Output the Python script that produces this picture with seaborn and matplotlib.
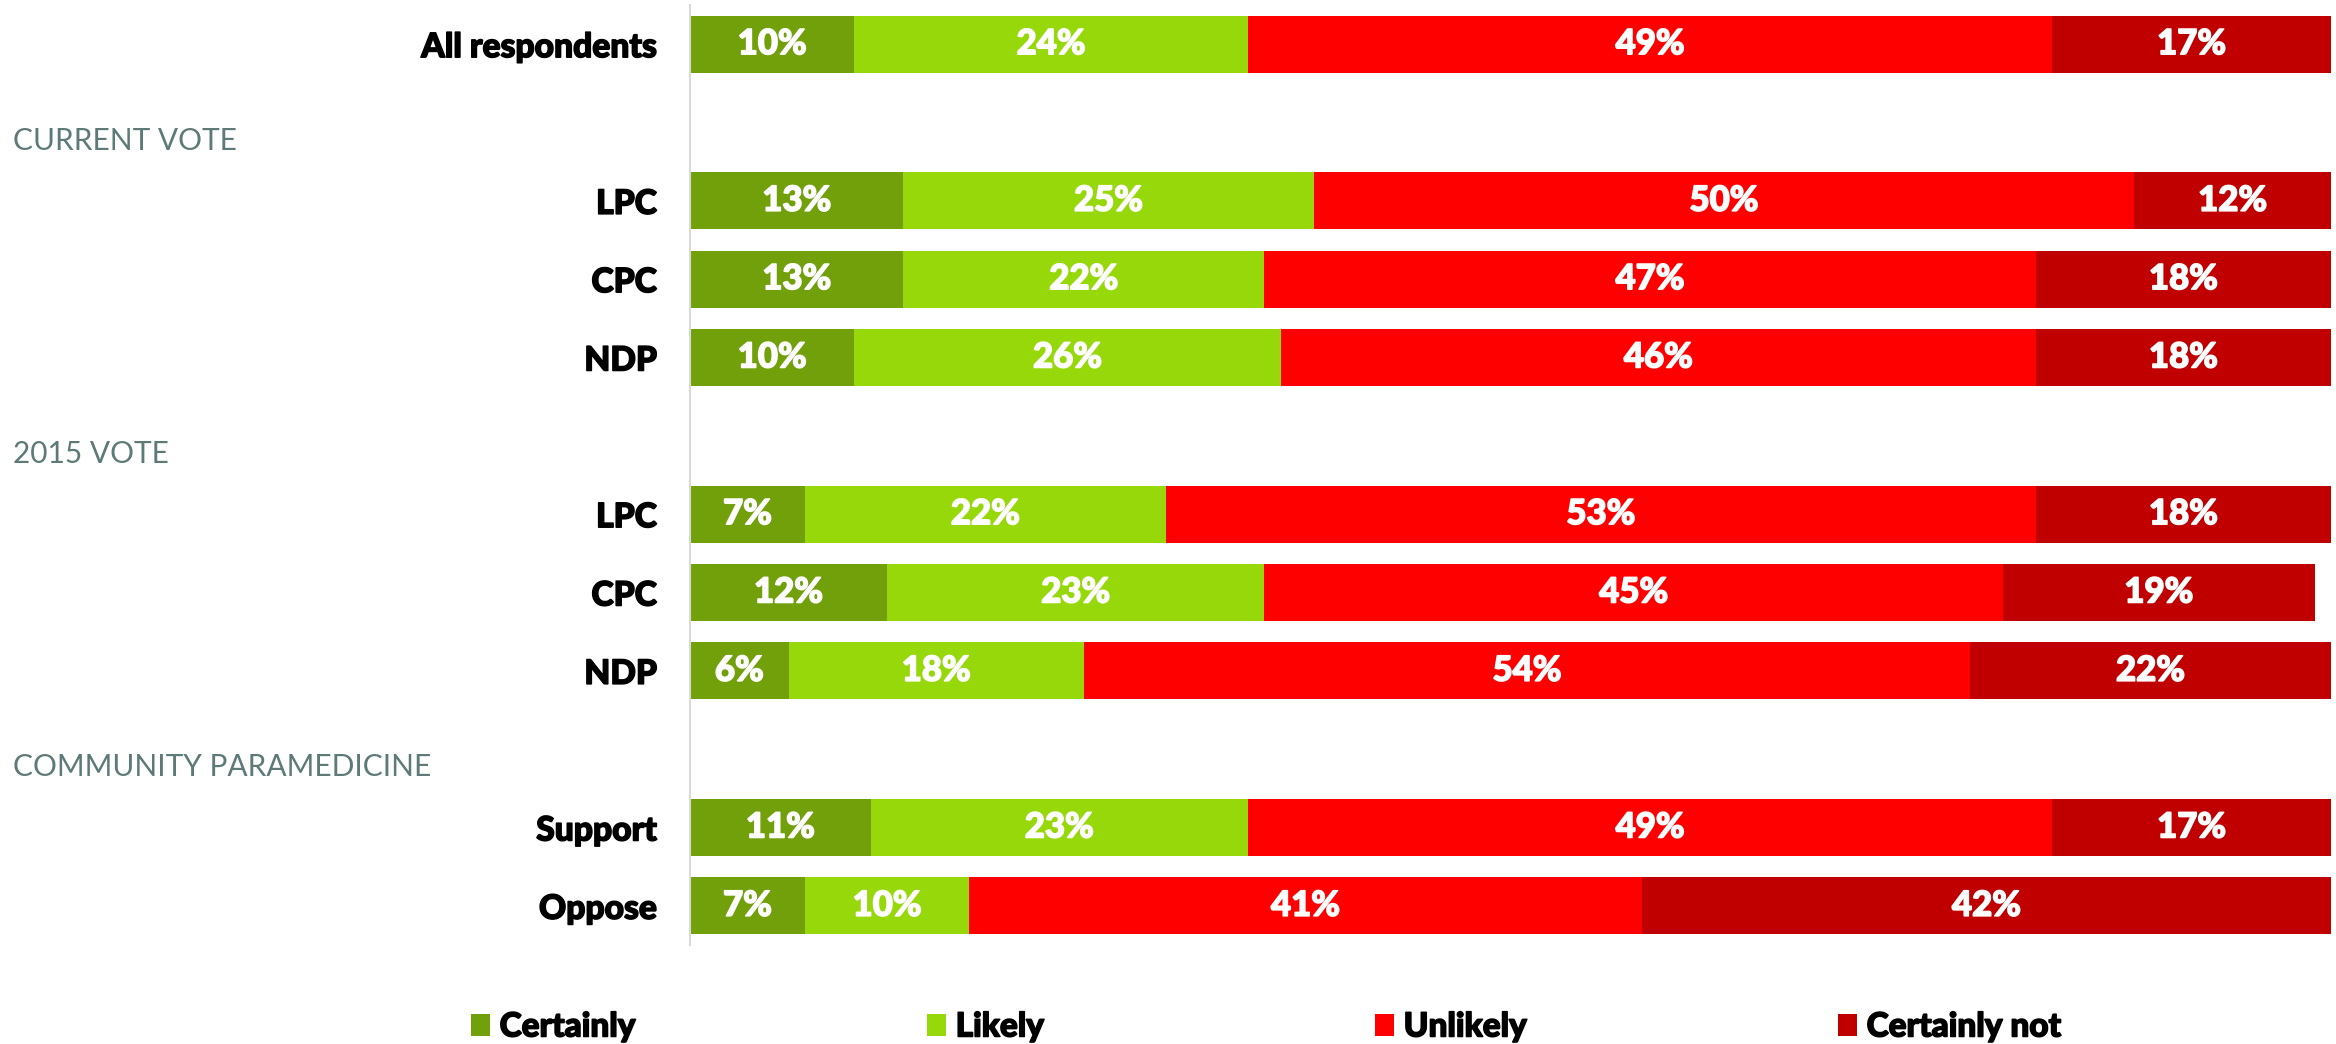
import matplotlib
matplotlib.use("Agg")
import matplotlib.pyplot as plt
import matplotlib.transforms as mtransforms
import matplotlib.patheffects as pe
from matplotlib.patches import Patch
import pandas as pd
import seaborn as sns

# Row slots (header slots stay empty on the bar axis)
row_keys = ["all", "hdr_current", "cur_lpc", "cur_cpc", "cur_ndp",
            "hdr_2015", "v15_lpc", "v15_cpc", "v15_ndp",
            "hdr_para", "support", "oppose"]
row_labels = ["All respondents", "", "LPC", "CPC", "NDP",
              "", "LPC", "CPC", "NDP", "", "Support", "Oppose"]
header_keys = ["hdr_current", "hdr_2015", "hdr_para"]
header_texts = ["CURRENT VOTE", "2015 VOTE", "COMMUNITY PARAMEDICINE"]

bar_rows = ["all", "cur_lpc", "cur_cpc", "cur_ndp",
            "v15_lpc", "v15_cpc", "v15_ndp", "support", "oppose"]
certainly = [10, 13, 13, 10, 7, 12, 6, 11, 7]
likely = [24, 25, 22, 26, 22, 23, 18, 23, 10]
unlikely = [49, 50, 47, 46, 53, 45, 54, 49, 41]
certainly_not = [17, 12, 18, 18, 18, 19, 22, 17, 42]

series_names = ["Certainly", "Likely", "Unlikely", "Certainly not"]
series_colors = ["#71A00B", "#97D80B", "#FF0000", "#C00000"]

FONT = "Lato"
HEAVY = 900
plt.rcParams["font.family"] = [FONT, "DejaVu Sans"]


def heavy(color, lw=1.1):
    """Thicken glyphs slightly with a same-coloured outline."""
    return [pe.Stroke(linewidth=lw, foreground=color), pe.Normal()]


df = pd.DataFrame({
    "row": bar_rows,
    "Certainly": certainly,
    "Likely": likely,
    "Unlikely": unlikely,
    "Certainly not": certainly_not,
})
cum = df[series_names].cumsum(axis=1)

fig = plt.figure(figsize=(23.36, 10.44), dpi=100)
ax = fig.add_axes([0.2954, 0.0948, 0.7025, 0.9004])

# Stacked bars: draw cumulative totals from the outermost segment inwards
for name, color in reversed(list(zip(series_names, series_colors))):
    plot_df = pd.DataFrame({"row": df["row"], "value": cum[name]})
    sns.barplot(data=plot_df, x="value", y="row", order=row_keys, orient="h",
                color=color, saturation=1, width=0.73, errorbar=None,
                linewidth=0, ax=ax)

# Segment value labels
pos = {k: i for i, k in enumerate(row_keys)}
for _, r in df.iterrows():
    left = 0
    for name in series_names:
        v = r[name]
        ax.text(left + v / 2, pos[r["row"]], f"{v}%", ha="center", va="center",
                color="white", fontsize=25, fontweight=HEAVY,
                path_effects=heavy("white"))
        left += v

ax.set_xlim(0, 100)
ax.set_ylim(len(row_keys) - 0.5, -0.5)
ax.set_xlabel("")
ax.set_ylabel("")
ax.set_xticks([])
ax.set_yticks(range(len(row_keys)))
ax.set_yticklabels(row_labels, fontsize=24.2, fontweight=HEAVY, color="black")
for lab in ax.get_yticklabels():
    lab.set_path_effects(heavy("black"))
ax.tick_params(axis="y", length=0, pad=24)
for s in ["top", "right", "bottom"]:
    ax.spines[s].set_visible(False)
ax.spines["left"].set_color("#D9D9D9")
ax.spines["left"].set_linewidth(1.5)

# Group headers at the left edge of the figure
trans = mtransforms.blended_transform_factory(fig.transFigure, ax.transData)
for key, txt in zip(header_keys, header_texts):
    ax.text(13 / 2336, pos[key] + 0.23, txt, transform=trans, ha="left",
            va="center", fontsize=21.5, color="#5E7A78")

# Legend entries placed one by one along the bottom
legend_x = [471, 927, 1375, 1838]
for name, color, x in zip(series_names, series_colors, legend_x):
    leg = fig.legend([Patch(facecolor=color, edgecolor="none")], [name],
                     loc="center left", bbox_to_anchor=(x / 2336, 1 - 1027 / 1044),
                     frameon=False, borderpad=0, borderaxespad=0,
                     handlelength=0.56, handleheight=0.62, handletextpad=0.3,
                     prop={"family": [FONT, "DejaVu Sans"], "weight": HEAVY, "size": 24})
    for t in leg.get_texts():
        t.set_path_effects(heavy("black"))

fig.savefig("out.png", dpi=100, facecolor="white")
